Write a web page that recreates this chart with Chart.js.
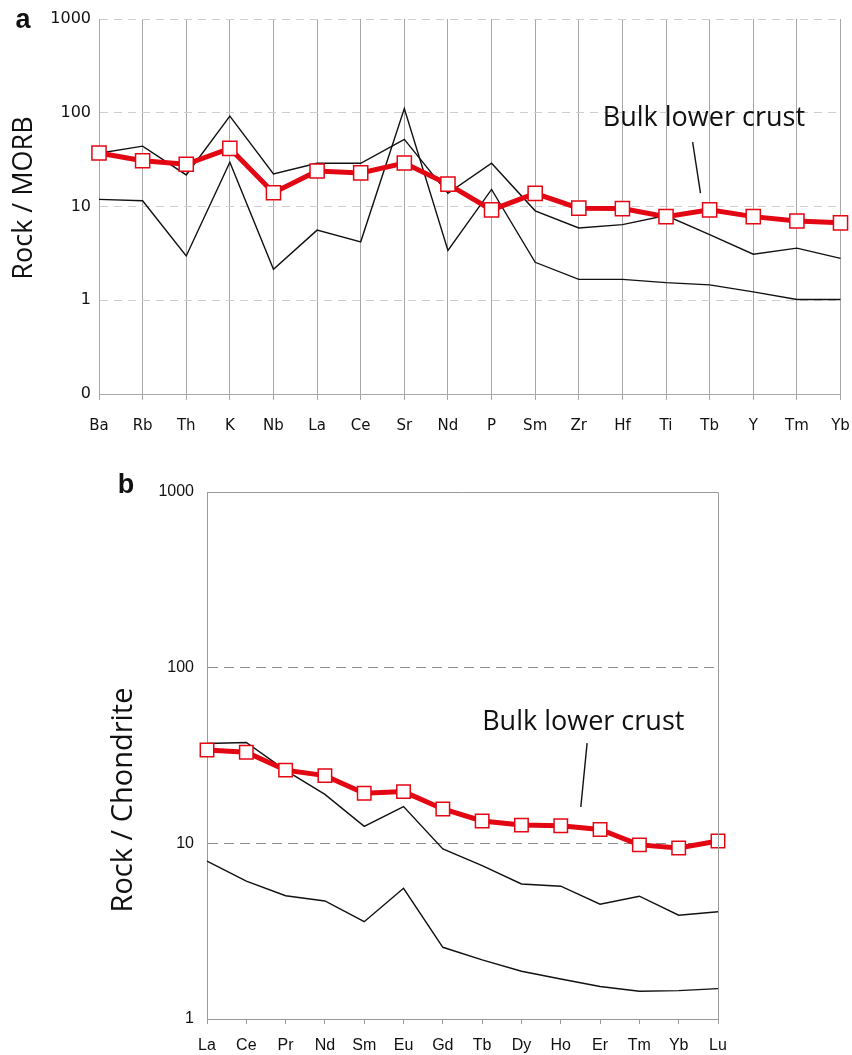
<!DOCTYPE html>
<html>
<head>
<meta charset="utf-8">
<script src="https://cdn.jsdelivr.net/npm/chart.js@4/dist/chart.umd.min.js"></script>
<style>
  html, body { margin: 0; padding: 0; background: #fff; }
  #wrap { position: relative; width: 852px; height: 1055px; }
  #ca { position: absolute; left: 0; top: 0; }
  #cb { position: absolute; left: 0; top: 440px; }
</style>
</head>
<body>
<div id="wrap">
  <canvas id="ca" width="852" height="440"></canvas>
  <canvas id="cb" width="852" height="615"></canvas>
</div>
<script>
// ---------- Panel a data (Rock / MORB) ----------
const categoriesA = ['Ba','Rb','Th','K','Nb','La','Ce','Sr','Nd','P','Sm','Zr','Hf','Ti','Tb','Y','Tm','Yb'];
const bulkLowerCrustA = [37.2, 30.8, 28.2, 41.7, 14.0, 23.9, 22.8, 29.1, 17.3, 9.2, 13.8, 9.6, 9.5, 7.8, 9.2, 7.8, 7.0, 6.7];
const upperA = [37, 44, 21.7, 92, 22.2, 28.9, 28.9, 52, 13.8, 28.9, 9.0, 5.9, 6.4, 8.0, 5.0, 3.1, 3.6, 2.8];
const lowerA = [11.9, 11.5, 2.97, 29.6, 2.14, 5.6, 4.2, 111, 3.4, 15.2, 2.54, 1.67, 1.67, 1.54, 1.46, 1.23, 1.02, 1.02];
const yTicksA = [0.1, 1, 10, 100, 1000];
const yTickLabelsA = ['0', '1', '10', '100', '1000'];

// ---------- Panel b data (Rock / Chondrite) ----------
const categoriesB = ['La','Ce','Pr','Nd','Sm','Eu','Gd','Tb','Dy','Ho','Er','Tm','Yb','Lu'];
const bulkLowerCrustB = [34.0, 33.0, 26.1, 24.3, 19.3, 19.7, 15.7, 13.4, 12.7, 12.6, 12.0, 9.8, 9.4, 10.3];
const upperB = [37, 37.5, 26, 19, 12.5, 16.2, 9.3, 7.46, 5.87, 5.7, 4.5, 5.0, 3.9, 4.08];
const lowerB = [7.93, 6.1, 5.03, 4.7, 3.58, 5.55, 2.56, 2.17, 1.87, 1.69, 1.53, 1.44, 1.45, 1.49];
const yTicksB = [1, 10, 100, 1000];
const yTickLabelsB = ['1', '10', '100', '1000'];

const RED = '#e30613';

function datasets(bulk, up, low, pr) {
  return [
    { data: bulk, borderColor: RED, borderWidth: 5, backgroundColor: '#fff',
      pointStyle: 'rect', pointRadius: pr, pointBorderColor: RED, pointBackgroundColor: '#fff',
      pointBorderWidth: 1.5, tension: 0, order: 0 },
    { data: up, borderColor: '#111', borderWidth: 1.4, pointRadius: 0, tension: 0, order: 1 },
    { data: low, borderColor: '#111', borderWidth: 1.4, pointRadius: 0, tension: 0, order: 2 }
  ];
}

// annotation plugin: text and leader lines placed via the chart's scales
const annot = {
  id: 'annot',
  afterDatasetsDraw(chart, args, opts) {
    const ctx = chart.ctx;
    const xs = chart.scales.x, ys = chart.scales.y;
    ctx.save();
    ctx.fillStyle = '#111';
    ctx.strokeStyle = '#111';
    if (opts.leader) {
      ctx.lineWidth = 1.4;
      ctx.beginPath();
      ctx.moveTo(xs.getPixelForValue(opts.leader[0][0]), ys.getPixelForValue(opts.leader[0][1]));
      ctx.lineTo(xs.getPixelForValue(opts.leader[1][0]), ys.getPixelForValue(opts.leader[1][1]));
      ctx.stroke();
    }
    if (opts.label) {
      ctx.font = '27px "Open Sans"';
      ctx.textAlign = 'left';
      ctx.textBaseline = 'middle';
      ctx.fillText(opts.label, xs.getPixelForValue(opts.labelAt[0]), ys.getPixelForValue(opts.labelAt[1]));
    }
    ctx.save();
    ctx.translate(opts.titlePos[0], opts.titlePos[1]);
    ctx.rotate(-Math.PI / 2);
    ctx.font = opts.titleSize + 'px "Open Sans"';
    ctx.textAlign = 'center';
    ctx.textBaseline = 'middle';
    ctx.fillText(opts.title, 0, 0);
    ctx.restore();
    ctx.font = 'bold 27px "Liberation Sans"';
    ctx.textAlign = 'center';
    ctx.textBaseline = 'middle';
    ctx.fillText(opts.letter, opts.letterPos[0], opts.letterPos[1]);
    if (opts.frame) {
      const a = chart.chartArea;
      ctx.strokeStyle = '#9a9a9a';
      ctx.lineWidth = 1;
      ctx.beginPath();
      ctx.moveTo(a.left, a.top + 0.5);
      ctx.lineTo(a.right + 0.5, a.top + 0.5);
      ctx.lineTo(a.right + 0.5, a.bottom);
      ctx.stroke();
    }
    ctx.restore();
  }
};

const noPadX = h => s => { s.height = h; s.paddingLeft = 0; s.paddingRight = 0; };
const noPadY = w => s => { s.width = w; s.paddingTop = 0; s.paddingBottom = 0; };

// ---------- Chart a ----------
new Chart(document.getElementById('ca'), {
  type: 'line',
  data: { labels: categoriesA, datasets: datasets(bulkLowerCrustA, upperA, lowerA, 10) },
  plugins: [annot],
  options: {
    responsive: false, animation: false,
    layout: { padding: { top: 19, right: 11, left: 0, bottom: 0 } },
    plugins: {
      legend: { display: false }, tooltip: { enabled: false },
      annot: {
        label: 'Bulk lower crust', labelAt: [11.55, 88],
        leader: [[13.61, 48.7], [13.79, 13.9]],
        title: 'Rock / MORB', titlePos: [24, 198], titleSize: 27,
        letter: 'a', letterPos: [23, 21]
      }
    },
    scales: {
      x: {
        type: 'category', offset: false,
        grid: { color: '#a8a8a8', lineWidth: 1, tickLength: 6, tickColor: '#a8a8a8' },
        border: { color: '#a8a8a8' },
        ticks: { font: { family: 'DejaVu Sans', size: 15 }, color: '#111', padding: 17, maxRotation: 0, autoSkip: false },
        afterFit: noPadX(46)
      },
      y: {
        type: 'logarithmic', min: 0.1, max: 1000,
        afterBuildTicks: s => { s.ticks = yTicksA.map(v => ({ value: v })); },
        ticks: { font: { family: 'DejaVu Sans', size: 16 }, color: '#111', padding: 8,
                 callback: v => yTickLabelsA[yTicksA.indexOf(v)] },
        grid: { color: '#cfcfcf', lineWidth: 1, drawTicks: false },
        border: { color: '#a8a8a8', dash: [8, 6] },
        afterFit: noPadY(99)
      }
    }
  }
});

// ---------- Chart b ----------
new Chart(document.getElementById('cb'), {
  type: 'line',
  data: { labels: categoriesB, datasets: datasets(bulkLowerCrustB, upperB, lowerB, 9.5) },
  plugins: [annot],
  options: {
    responsive: false, animation: false,
    layout: { padding: { top: 52, right: 134, left: 0, bottom: 0 } },
    plugins: {
      legend: { display: false }, tooltip: { enabled: false },
      annot: {
        label: 'Bulk lower crust', labelAt: [7.0, 49],
        leader: [[9.67, 37.2], [9.51, 16.1]],
        title: 'Rock / Chondrite', titlePos: [124, 360], titleSize: 29,
        letter: 'b', letterPos: [126, 46],
        frame: true
      }
    },
    scales: {
      x: {
        type: 'category', offset: false,
        grid: { drawOnChartArea: false, tickLength: 5, tickColor: '#9a9a9a' },
        border: { color: '#9a9a9a' },
        ticks: { font: { family: 'Liberation Sans', size: 16 }, color: '#111', padding: 12, maxRotation: 0, autoSkip: false },
        afterFit: noPadX(36)
      },
      y: {
        type: 'logarithmic', min: 1, max: 1000,
        afterBuildTicks: s => { s.ticks = yTicksB.map(v => ({ value: v })); },
        ticks: { font: { family: 'Liberation Sans', size: 16 }, color: '#111', padding: 13,
                 callback: v => yTickLabelsB[yTicksB.indexOf(v)] },
        grid: { color: ctx => (ctx.tick && (ctx.tick.value === 10 || ctx.tick.value === 100)) ? '#8c8c8c' : 'rgba(0,0,0,0)',
                lineWidth: 1, drawTicks: false },
        border: { color: '#9a9a9a', dash: [10, 6] },
        afterFit: noPadY(207)
      }
    }
  }
});
</script>
</body>
</html>
